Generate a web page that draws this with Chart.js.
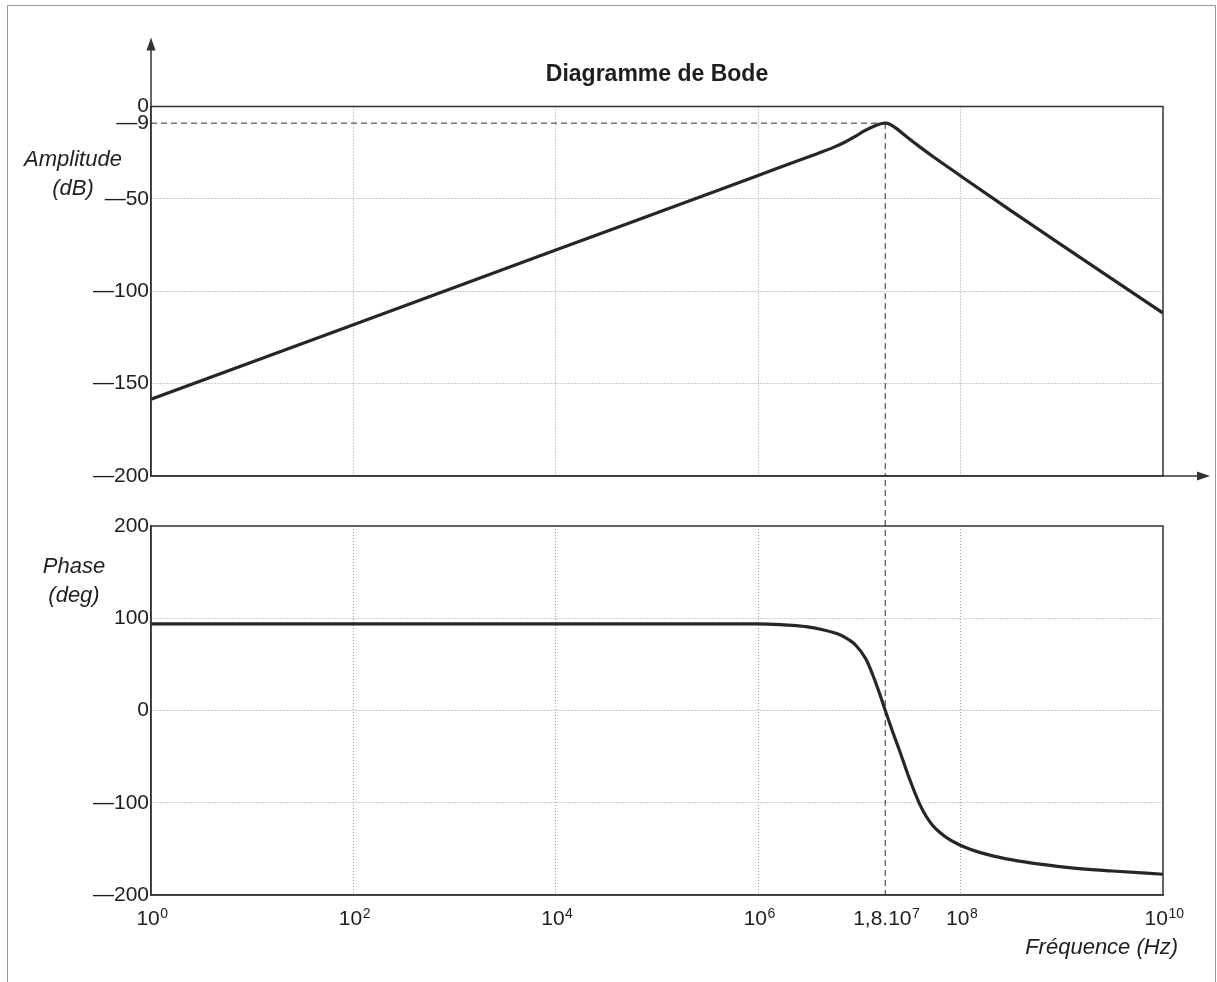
<!DOCTYPE html>
<html>
<head>
<meta charset="utf-8">
<script src="https://cdn.jsdelivr.net/npm/chart.js@4/dist/chart.umd.min.js"></script>
<style>
  html, body { margin: 0; padding: 0; background: #fff; }
  #wrap { position: relative; width: 1217px; height: 982px; overflow: hidden; background: #fff; }
  #frame { position: absolute; left: 7px; top: 5px; width: 1209px; height: 1000px; border: 1px solid #999; box-sizing: border-box; }
  canvas { position: absolute; left: 0; top: 0; }
</style>
</head>
<body>
<div id="wrap">
  <div id="frame"></div>
  <canvas id="amp" width="1217" height="982"></canvas>
  <canvas id="phase" width="1217" height="982"></canvas>
</div>
<script>
// ---- data ----
const xTickValues = [1, 1e2, 1e4, 1e6, 1.8e7, 1e8, 1e10];
const xTickBase = ['10', '10', '10', '10', '1,8.10', '10', '10'];
const xTickExp = ['0', '2', '4', '6', '7', '8', '10'];
const xGridValues = [1e2, 1e4, 1e6, 1e8];

const ampTickValues = [0, -9, -50, -100, -150, -200];
const ampGridValues = [-50, -100, -150];
const phaseTickValues = [200, 100, 0, -100, -200];
const phaseGridValues = [100, 0, -100];

const ampFreqHz = [1, 100, 1e4, 1e6, 3.16e6, 5.62e6, 7.08e6, 8.91e6, 1.12e7, 1.41e7, 1.66e7, 1.8e7, 2.0e7, 2.4e7, 2.95e7, 3.98e7, 5.37e7, 9.33e7, 3.16e8, 1e9, 3.16e9, 1e10];
const ampDb = [-158.5, -118.1, -77.7, -37.3, -27.2, -22, -19.5, -16.5, -13.2, -10.5, -9.2, -9, -9.6, -12.5, -16.5, -22, -27.2, -36.4, -56.5, -75, -93.4, -111.8];

const phaseFreqHz = [1, 1e2, 1e4, 1e5, 1e6, 1.78e6, 2.96e6, 4.34e6, 6.34e6, 7.94e6, 9.25e6, 1.16e7, 1.35e7, 1.57e7, 1.8e7, 2.13e7, 2.48e7, 3.11e7, 3.91e7, 4.55e7, 5.30e7, 6.17e7, 7.73e7, 1.09e8, 1.51e8, 2.75e8, 1.12e9, 3.16e9, 1e10];
const phaseDeg = [94, 94, 94, 94, 94, 92.8, 90.9, 87.5, 82.3, 76.4, 70.5, 55.8, 39, 19.5, 0, -23, -42.8, -73.5, -100.6, -114.4, -124.6, -131.7, -139.8, -148, -153.5, -160.5, -170, -174, -177.5];

const peakFreq = 1.8e7;
const peakDb = -9;

const titleText = 'Diagramme de Bode';
const ampLabel = ['Amplitude', '(dB)'];
const phaseLabel = ['Phase', '(deg)'];
const freqLabel = 'Fréquence (Hz)';

// ---- styling ----
const FONT = "'Liberation Sans', Arial, Helvetica, sans-serif";
const INK = '#1e1e1e';
const AXIS = '#333';
const GRID = '#9a9a9a';

function dashLabel(v) {
  return (v < 0 ? '\u2014' + Math.abs(v) : String(v));
}

function fixPad(scale) {
  scale.paddingTop = 0; scale.paddingBottom = 0;
  scale.paddingLeft = 0; scale.paddingRight = 0;
}

function xScale(height) {
  return {
    type: 'logarithmic',
    min: 1, max: 1e10,
    afterBuildTicks: s => { s.ticks = xTickValues.map(v => ({ value: v })); },
    afterFit: s => { s.height = height; fixPad(s); },
    ticks: { display: false, autoSkip: false, maxRotation: 0, minRotation: 0 },
    grid: {
      drawTicks: false,
      lineWidth: 1,
      color: ctx => (ctx.tick && xGridValues.includes(ctx.tick.value)) ? GRID : 'rgba(0,0,0,0)'
    },
    border: { display: true, color: AXIS, width: 1.5, dash: [1, 2] }
  };
}

function yScale(min, max, tickValues, gridValues) {
  return {
    type: 'linear',
    min: min, max: max,
    afterBuildTicks: s => { s.ticks = tickValues.map(v => ({ value: v })); },
    afterFit: s => { s.width = 151; fixPad(s); },
    ticks: {
      padding: 2,
      color: INK,
      font: { family: FONT, size: 21 },
      callback: v => dashLabel(v)
    },
    grid: {
      drawTicks: false,
      lineWidth: 1,
      color: ctx => (ctx.tick && gridValues.includes(ctx.tick.value)) ? GRID : 'rgba(0,0,0,0)'
    },
    border: { display: true, color: AXIS, width: 1.5, dash: [1, 2] }
  };
}

function arrowHead(ctx, x, y, dir) {
  ctx.beginPath();
  if (dir === 'up') {
    ctx.moveTo(x, y); ctx.lineTo(x - 4.5, y + 13); ctx.lineTo(x + 4.5, y + 13);
  } else {
    ctx.moveTo(x, y); ctx.lineTo(x - 13, y - 4.5); ctx.lineTo(x - 13, y + 4.5);
  }
  ctx.closePath(); ctx.fill();
}

const ampDecor = {
  id: 'ampDecor',
  afterDatasetsDraw(chart) {
    const { ctx, chartArea: a, scales } = chart;
    ctx.save();
    ctx.strokeStyle = AXIS; ctx.lineWidth = 1.5; ctx.setLineDash([]);
    ctx.strokeRect(a.left, a.top, a.right - a.left, a.bottom - a.top);
    ctx.fillStyle = AXIS;
    ctx.beginPath(); ctx.moveTo(a.left, a.top); ctx.lineTo(a.left, a.top - 66); ctx.stroke();
    arrowHead(ctx, a.left, a.top - 69, 'up');
    ctx.beginPath(); ctx.moveTo(a.right, a.bottom); ctx.lineTo(a.right + 44, a.bottom); ctx.stroke();
    arrowHead(ctx, a.right + 47, a.bottom, 'right');
    const px = scales.x.getPixelForValue(peakFreq);
    const py = scales.y.getPixelForValue(peakDb);
    ctx.strokeStyle = '#2a2a2a'; ctx.lineWidth = 1; ctx.setLineDash([6, 4]);
    ctx.beginPath(); ctx.moveTo(a.left, py); ctx.lineTo(px, py); ctx.stroke();
    ctx.beginPath(); ctx.moveTo(px, py); ctx.lineTo(px, a.bottom); ctx.stroke();
    ctx.setLineDash([]);
    ctx.fillStyle = INK;
    ctx.textAlign = 'center'; ctx.textBaseline = 'middle';
    ctx.font = 'bold 23px ' + FONT;
    ctx.fillText(titleText, (a.left + a.right) / 2, a.top - 32);
    ctx.font = 'italic 22px ' + FONT;
    ctx.fillText(ampLabel[0], a.left - 78, a.top + 53);
    ctx.fillText(ampLabel[1], a.left - 78, a.top + 82);
    ctx.restore();
  }
};

const ampChart = new Chart(document.getElementById('amp'), {
  type: 'line',
  data: {
    datasets: [{
      data: ampFreqHz.map((f, i) => ({ x: f, y: ampDb[i] })),
      borderColor: '#262626', borderWidth: 3.2,
      pointRadius: 0, fill: false,
      cubicInterpolationMode: 'monotone'
    }]
  },
  options: {
    responsive: false, animation: false,
    layout: { padding: { left: 0, right: 54, top: 106.5, bottom: 506 } },
    plugins: { legend: { display: false }, tooltip: { enabled: false }, title: { display: false } },
    scales: {
      x: xScale(0),
      y: yScale(-200, 0, ampTickValues, ampGridValues)
    }
  },
  plugins: [ampDecor]
});

const phaseDecor = {
  id: 'phaseDecor',
  afterDatasetsDraw(chart) {
    const { ctx, chartArea: a, scales } = chart;
    ctx.save();
    ctx.strokeStyle = AXIS; ctx.lineWidth = 1.5; ctx.setLineDash([]);
    ctx.strokeRect(a.left, a.top, a.right - a.left, a.bottom - a.top);
    const px = scales.x.getPixelForValue(peakFreq);
    const topY = ampChart.chartArea ? ampChart.chartArea.bottom : a.top;
    ctx.strokeStyle = '#2a2a2a'; ctx.lineWidth = 1; ctx.setLineDash([6, 4]);
    ctx.beginPath(); ctx.moveTo(px, topY + 4); ctx.lineTo(px, a.bottom); ctx.stroke();
    ctx.setLineDash([]);
    ctx.fillStyle = INK;
    ctx.font = 'italic 22px ' + FONT;
    ctx.textAlign = 'center'; ctx.textBaseline = 'middle';
    ctx.fillText(phaseLabel[0], a.left - 77, a.top + 41);
    ctx.fillText(phaseLabel[1], a.left - 77, a.top + 70);
    ctx.textAlign = 'right';
    ctx.fillText(freqLabel, a.right + 15, a.bottom + 53);
    // x tick labels (base + superscript exponent) at the scale's ticks
    ctx.textAlign = 'left'; ctx.textBaseline = 'alphabetic';
    const xs = scales.x;
    xs.ticks.forEach((t, i) => {
      const p = xs.getPixelForValue(t.value);
      ctx.font = '21px ' + FONT;
      const wb = ctx.measureText(xTickBase[i]).width;
      ctx.font = '14px ' + FONT;
      const we = ctx.measureText(xTickExp[i]).width;
      const x0 = p - (wb + we) / 2 + 1;
      ctx.font = '21px ' + FONT;
      ctx.fillText(xTickBase[i], x0, a.bottom + 30);
      ctx.font = '14px ' + FONT;
      ctx.fillText(xTickExp[i], x0 + wb + 0.5, a.bottom + 23);
    });
    ctx.restore();
  }
};

new Chart(document.getElementById('phase'), {
  type: 'line',
  data: {
    datasets: [{
      data: phaseFreqHz.map((f, i) => ({ x: f, y: phaseDeg[i] })),
      borderColor: '#262626', borderWidth: 3.2,
      pointRadius: 0, fill: false,
      cubicInterpolationMode: 'monotone'
    }]
  },
  options: {
    responsive: false, animation: false,
    layout: { padding: { left: 0, right: 54, top: 526, bottom: 0 } },
    plugins: { legend: { display: false }, tooltip: { enabled: false }, title: { display: false } },
    scales: {
      x: xScale(87),
      y: yScale(-200, 200, phaseTickValues, phaseGridValues)
    }
  },
  plugins: [phaseDecor]
});
</script>
</body>
</html>
